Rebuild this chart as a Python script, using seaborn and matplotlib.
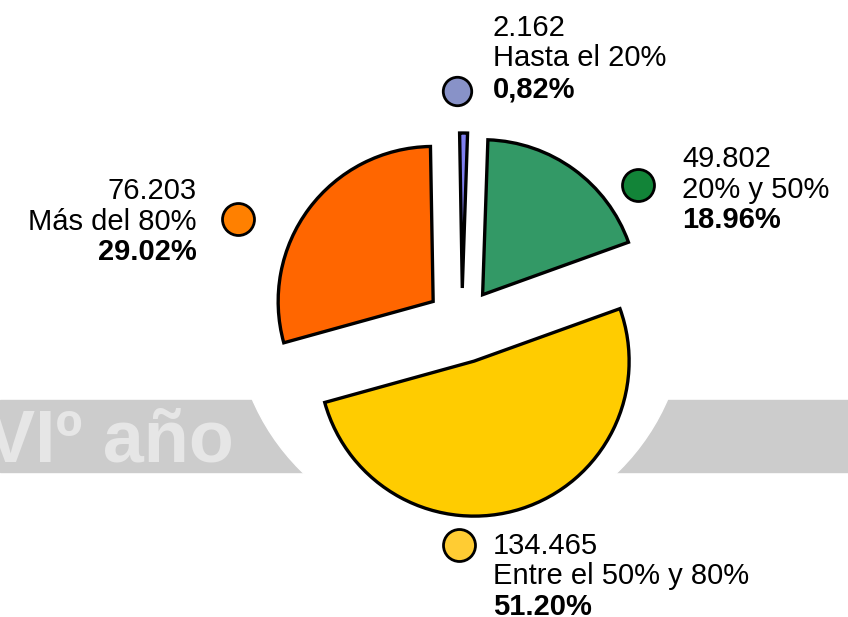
import matplotlib
matplotlib.use("Agg")
import matplotlib.pyplot as plt
import matplotlib.patches as mpatches
import pandas as pd
import seaborn as sns

# data
categories = ["Hasta el 20%", "20% y 50%", "Entre el 50% y 80%", "Más del 80%"]
counts = ["2.162", "49.802", "134.465", "76.203"]
shares = [0.82, 18.96, 51.20, 29.02]
share_labels = ["0,82%", "18.96%", "51.20%", "29.02%"]
slice_colors = ["#8080f0", "#339966", "#ffcc00", "#ff6600"]
dot_colors = ["#8892c8", "#128438", "#ffcc33", "#ff8000"]

# layout (pixel coordinates, y measured from top)
W, H = 848, 617
pie_center = (462, 323)
pie_radius = 155
explode = [35, 35, 40, 36]
dot_xy = [(457, 91), (638, 185), (459, 545), (238, 219)]
dot_size = [420, 530, 530, 530]
text_x = [493, 682, 493, 197]
text_align = ["left", "left", "left", "right"]
text_base = [36, 167, 554, 199]
line_gap = 30.5

sns.set_style("white")
plt.rcParams["font.family"] = ["Liberation Sans", "DejaVu Sans"]

fig = plt.figure(figsize=(W / 100, H / 100), dpi=100)
ax = fig.add_axes([0, 0, 1, 1])

# grey band with the white circle cut out, plus the faded watermark
ax.add_patch(mpatches.Rectangle((0, H - 472), W, 72, color="#cccccc", zorder=0))
ax.add_patch(mpatches.Circle((460, H - 310), 226, color="white", zorder=1))
ax.text(234, H - 462, "VIº año", ha="right", va="baseline", fontsize=53,
        fontweight="bold", color="#e6e6e6", zorder=1)

ax.pie(shares, colors=slice_colors, startangle=91, counterclock=False,
       radius=pie_radius, center=(pie_center[0], H - pie_center[1]),
       explode=explode,
       wedgeprops=dict(edgecolor="black", linewidth=2.4, joinstyle="miter", zorder=3))

dots = pd.DataFrame({
    "x": [p[0] for p in dot_xy],
    "y": [H - p[1] for p in dot_xy],
    "cat": categories,
})
for i, row in dots.iterrows():
    sns.scatterplot(x=[row["x"]], y=[row["y"]], color=dot_colors[i], s=dot_size[i],
                    edgecolor="black", linewidth=2, ax=ax, zorder=4, legend=False)

for i in range(len(categories)):
    lines = [(counts[i], "normal"), (categories[i], "normal"), (share_labels[i], "bold")]
    for j, (txt, wt) in enumerate(lines):
        ax.text(text_x[i], H - (text_base[i] + j * line_gap), txt, ha=text_align[i],
                va="baseline", fontsize=21, fontweight=wt, color="black", zorder=5)

ax.set_xlim(0, W)
ax.set_ylim(0, H)
ax.set_aspect("auto")
ax.axis("off")

fig.savefig("out.png", dpi=100)
